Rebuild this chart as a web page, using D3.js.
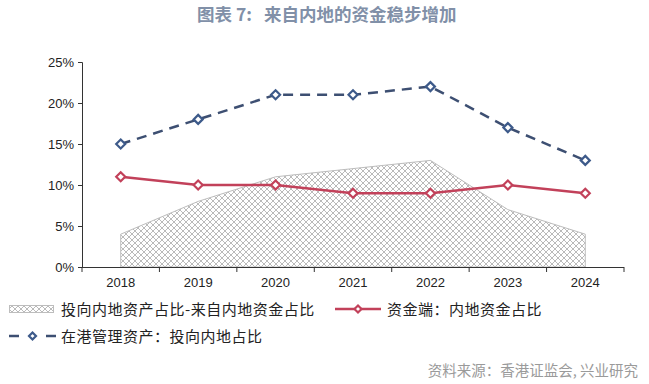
<!DOCTYPE html>
<html lang="zh">
<head>
<meta charset="UTF-8">
<title>来自内地的资金稳步增加</title>
<script src="https://d3js.org/d3.v7.min.js"></script>
<style>
  body { margin: 0; background: #fff; }
  svg text { font-family: "Liberation Sans", Arial, sans-serif; }
  .cjk { font-family: "Noto Sans CJK SC", sans-serif; }
  .axis path, .axis line { stroke: #333; }
  .axis text { font-size: 13px; fill: #222; }
</style>
</head>
<body>
<svg width="649" height="384"></svg>
<script>
// data
const years = ["2018", "2019", "2020", "2021", "2022", "2023", "2024"];
const shareGap = [4, 8, 11, 12, 13, 7, 4];          // 投向内地资产占比-来自内地资金占比
const fundSide = [11, 10, 10, 9, 9, 10, 9];         // 资金端：内地资金占比
const assetSide = [15, 18, 21, 21, 22, 17, 13];     // 在港管理资产：投向内地占比
const yTicks = [0, 5, 10, 15, 20, 25];

const svg = d3.select("svg");
const margin = { left: 82, right: 25, top: 62, bottom: 117 };
const W = 649, H = 384;

const x = d3.scaleBand().domain(years).range([margin.left, W - margin.right]);
const y = d3.scaleLinear().domain([0, 25]).range([H - margin.bottom, margin.top]);
const cx = d => x(d) + x.bandwidth() / 2;

// hatch pattern
const defs = svg.append("defs");
const pat = defs.append("pattern")
    .attr("id", "hatch")
    .attr("patternUnits", "userSpaceOnUse")
    .attr("width", 6).attr("height", 6);
pat.append("path").attr("d", "M0,0 L6,6 M6,0 L0,6 M-1,5 L1,7 M5,-1 L7,1 M5,7 L7,5 M-1,1 L1,-1")
    .attr("stroke", "#8c8c8c").attr("stroke-width", 0.6);

// title
svg.append("text").attr("class", "cjk")
    .attr("x", 197).attr("y", 21)
    .attr("font-size", 17.5).attr("font-weight", "bold").attr("fill", "#8190a8")
    .text("图表 7:\u00a0\u00a0\u00a0来自内地的资金稳步增加");

// area
const area = d3.area()
    .x((d, i) => cx(years[i]))
    .y0(y(0))
    .y1(d => y(d));
svg.append("path").datum(shareGap)
    .attr("d", area)
    .attr("fill", "url(#hatch)")
    .attr("stroke", "#bdbdbd").attr("stroke-width", 1);

// axes
const yAxis = svg.append("g").attr("class", "axis")
    .attr("transform", `translate(${margin.left},0)`)
    .call(d3.axisLeft(y).tickValues(yTicks).tickFormat(d => d + "%").tickSize(4).tickPadding(4));
yAxis.selectAll("text").attr("dy", "0.35em");

const xAxis = svg.append("g").attr("class", "axis")
    .attr("transform", `translate(0,${y(0)})`)
    .call(d3.axisBottom(x).tickSize(0).tickPadding(11));
xAxis.select(".domain").attr("d", `M${margin.left},0.5H${W - margin.right}`);
// boundary ticks between categories
xAxis.selectAll(".bt").data(d3.range(years.length + 1)).enter().append("line")
    .attr("class", "bt")
    .attr("x1", i => margin.left + i * x.step()).attr("x2", i => margin.left + i * x.step())
    .attr("y1", 0).attr("y2", 5).attr("stroke", "#333");

// lines
const line = d3.line().x((d, i) => cx(years[i])).y(d => y(d));
svg.append("path").datum(fundSide)
    .attr("d", line).attr("fill", "none")
    .attr("stroke", "#c2415a").attr("stroke-width", 2.5);
svg.append("path").datum(assetSide)
    .attr("d", line).attr("fill", "none")
    .attr("stroke", "#3d4f72").attr("stroke-width", 2.5)
    .attr("stroke-dasharray", "10,7");

function diamond(g, px, py, color, r) {
    g.append("path")
        .attr("d", `M${px},${py - r}L${px + r},${py}L${px},${py + r}L${px - r},${py}Z`)
        .attr("fill", "#fff").attr("stroke", color).attr("stroke-width", 2.2);
}
fundSide.forEach((v, i) => diamond(svg, cx(years[i]), y(v), "#c2415a", 4.5));
assetSide.forEach((v, i) => diamond(svg, cx(years[i]), y(v), "#3d5a8a", 4.5));

// legend
const lg = svg.append("g");
const legendText = (tx, ty, s) => lg.append("text").attr("class", "cjk")
    .attr("x", tx).attr("y", ty).attr("font-size", 15).attr("letter-spacing", 0.5)
    .attr("fill", "#222").text(s);

lg.append("rect").attr("x", 9.5).attr("y", 305.5).attr("width", 44).attr("height", 7)
    .attr("fill", "url(#hatch)").attr("stroke", "#bdbdbd");
legendText(61, 314.5, "投向内地资产占比-来自内地资金占比");

lg.append("line").attr("x1", 335).attr("x2", 381).attr("y1", 309).attr("y2", 309)
    .attr("stroke", "#c2415a").attr("stroke-width", 2.5);
diamond(lg, 358, 309, "#c2415a", 3.5);
legendText(387, 314.5, "资金端：内地资金占比");

lg.append("line").attr("x1", 9).attr("x2", 19).attr("y1", 336).attr("y2", 336)
    .attr("stroke", "#3d4f72").attr("stroke-width", 2.5);
lg.append("line").attr("x1", 46).attr("x2", 56).attr("y1", 336).attr("y2", 336)
    .attr("stroke", "#3d4f72").attr("stroke-width", 2.5);
diamond(lg, 32.5, 336, "#3d5a8a", 3.5);
legendText(61, 341.5, "在港管理资产：投向内地占比");

// source
svg.append("text").attr("class", "cjk")
    .attr("x", 638).attr("y", 376).attr("text-anchor", "end")
    .attr("font-size", 14.5).attr("fill", "#9a9a9a")
    .text("资料来源：香港证监会, 兴业研究");
</script>
</body>
</html>
